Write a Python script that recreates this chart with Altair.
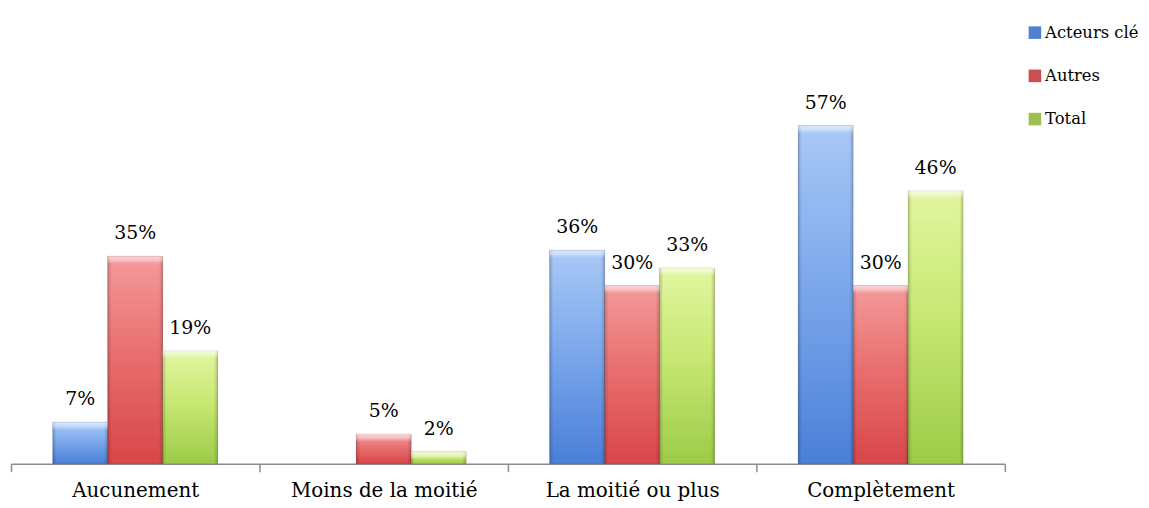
import altair as alt
import pandas as pd

categories = ["Aucunement", "Moins de la moitié", "La moitié ou plus", "Complètement"]
series = ["Acteurs clé", "Autres", "Total"]
acteurs = [7, None, 36, 57]
autres = [35, 5, 30, 30]
total = [19, 2, 33, 46]

rows = []
for s, vals in zip(series, [acteurs, autres, total]):
    for c, v in zip(categories, vals):
        if v is not None:
            rows.append({"categorie": c, "serie": s, "valeur": v})
df = pd.DataFrame(rows)

flat = ["#4f81d0", "#cc4e4e", "#9bc04f"]
grads = {
    "Acteurs clé": ("#a9c9f6", "#7ea9ec", "#4a7fd8"),
    "Autres": ("#f49a9a", "#e97070", "#d84649"),
    "Total": ("#e2f6a0", "#c8e874", "#9ccb48"),
}

FONT = "DejaVu Serif"

base = alt.Chart(df).encode(
    x=alt.X(
        "categorie:N",
        sort=categories,
        scale=alt.Scale(domain=categories, paddingInner=0, paddingOuter=0, round=False),
        axis=alt.Axis(
            title=None, labelAngle=0, tickBand="extent", domainColor="#8c8c8c",
            tickColor="#8c8c8c", tickSize=8, domainWidth=1.5, tickWidth=1.5,
            labelFont=FONT, labelFontSize=20, labelColor="black", labelPadding=9,
            labelLimit=400,
        ),
    ),
    xOffset=alt.XOffset(
        "serie:N", sort=series,
        scale=alt.Scale(domain=series, paddingInner=0, paddingOuter=0.76, round=False),
    ),
    y=alt.Y("valeur:Q", scale=alt.Scale(domain=[0, 60]), axis=None),
)

legend_layer = base.mark_bar().encode(
    color=alt.Color(
        "serie:N", sort=series,
        scale=alt.Scale(domain=series, range=flat),
        legend=alt.Legend(
            title=None, orient="none", legendX=1022, legendY=-84, padding=0,
            symbolType="square", symbolSize=160, symbolStrokeWidth=0,
            labelFont=FONT, labelFontSize=16.5, labelColor="black",
            rowPadding=26.5, labelOffset=2, labelLimit=200,
        ),
    )
)

layers = [legend_layer]
for s in series:
    top, mid, bot = grads[s]
    layers.append(
        base.transform_filter(alt.datum.serie == s).mark_bar(
            fill={
                "gradient": "linear", "x1": 0, "y1": 0, "x2": 0, "y2": 1,
                "stops": [
                    {"offset": 0, "color": top},
                    {"offset": 0.45, "color": mid},
                    {"offset": 1, "color": bot},
                ],
            },
            stroke="#00000026", strokeWidth=0.8,
        )
    )

edges = base.mark_bar(
    fill={
        "gradient": "linear", "x1": 0, "y1": 0, "x2": 1, "y2": 0,
        "stops": [
            {"offset": 0, "color": "#00000030"},
            {"offset": 0.07, "color": "#00000000"},
            {"offset": 0.93, "color": "#00000000"},
            {"offset": 1, "color": "#00000030"},
        ],
    },
)
layers.append(edges)

bevel = base.transform_calculate(bas="datum.valeur - 1.3").mark_bar(
    fill={
        "gradient": "linear", "x1": 0, "y1": 0, "x2": 0, "y2": 1,
        "stops": [
            {"offset": 0, "color": "#ffffff"},
            {"offset": 0.5, "color": "#ffffffaa"},
            {"offset": 1, "color": "#ffffff00"},
        ],
    },
    opacity=0.6,
).encode(y2="bas:Q")
layers.append(bevel)

labels = base.transform_calculate(label="datum.valeur + '%'").mark_text(
    baseline="middle", dy=-23, font=FONT, fontSize=19, color="black"
).encode(text="label:N")
layers.append(labels)

chart = alt.layer(*layers).properties(
    width=1000, height=358,
    autosize=alt.AutoSizeParams(type="none"),
    padding={"left": 3, "top": 99, "right": 137, "bottom": 40},
).configure_view(stroke=None)

chart.save("out.html", embed_options={"renderer": "svg", "actions": False})
